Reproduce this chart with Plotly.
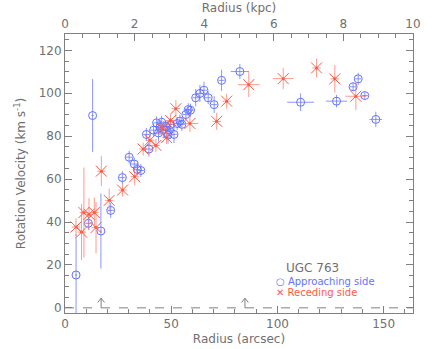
import plotly.graph_objects as go

# Approaching side (blue circles): radius [arcsec], velocity [km/s], errors
app_r = [5.2, 11.0, 13.0, 16.9, 21.5, 27.0, 30.2, 32.6, 34.0, 35.7, 38.3, 39.5,
         41.7, 43.1, 44.0, 44.7, 45.5, 46.5, 47.5, 48.5, 49.1, 49.7, 51.3, 52.8,
         54.1, 55.0, 56.9, 58.0, 59.1, 61.5, 63.5, 65.4, 67.4, 70.2, 73.7, 82.3,
         110.9, 127.8, 135.6, 138.0, 141.1, 146.3]
app_v = [15.3, 39.4, 89.6, 35.8, 45.4, 60.7, 70.2, 67.0, 64.5, 64.0, 80.8, 74.0,
         82.8, 86.2, 81.5, 84.0, 86.5, 83.0, 84.5, 80.5, 82.8, 85.4, 80.8, 85.9,
         87.0, 85.5, 90.1, 92.4, 92.1, 97.9, 99.9, 101.4, 97.9, 94.7, 106.0, 110.1,
         95.8, 96.3, 103.0, 106.7, 98.9, 87.8]
app_rerr = [0.5, 1.5, 0.5, 0.5, 1.5, 1.5, 1.5, 1.5, 1.5, 1.5, 1.5, 1.5,
            1.5, 1.5, 1.5, 1.5, 1.5, 1.5, 1.5, 1.5, 1.5, 1.5, 1.5, 1.5,
            1.5, 1.5, 1.5, 1.5, 1.5, 1.5, 1.5, 1.5, 1.5, 1.5, 1.5, 4.3,
            6.3, 5.0, 1.5, 1.5, 1.5, 3.0]
app_verr = [19, 3, 17, 17.5, 3.5, 3, 3, 3, 3, 3, 3, 3.5,
            3, 3, 4, 3.5, 3, 4, 3, 4, 3, 3, 4, 3,
            3, 3, 3, 3, 3, 4, 4, 4, 3, 4, 5, 3.5,
            4.1, 2.9, 2, 2.8, 2, 3.6]

# Receding side (red crosses)
rec_r = [5.2, 7.8, 8.9, 11.3, 13.8, 14.6, 17.1, 20.8, 27.1, 32.8, 36.8, 40.0,
         42.8, 46.0, 47.8, 49.7, 52.2, 58.8, 71.4, 76.1, 86.5, 102.7, 118.4, 127.0,
         136.9]
rec_v = [37.7, 35.3, 44.4, 43.6, 44.4, 37.4, 63.7, 50.1, 54.9, 61.1, 74.0, 78.1,
         75.7, 83.4, 79.3, 87.3, 92.8, 85.9, 86.9, 96.3, 104.0, 106.8, 111.8, 106.7,
         98.6]
rec_rerr = [2, 2, 2, 2, 2, 2, 2, 2, 2, 2, 2, 2,
            2, 2, 2, 2, 2, 3.9, 2, 2, 5.1, 4.9, 2, 2,
            5.0]
rec_verr = [4, 13, 21, 7.5, 7, 12, 7, 5.4, 3, 4, 3, 3,
            3, 3, 3, 3, 4, 4, 4, 3.5, 5.8, 4.9, 4.3, 6.4,
            6.4]

# little upward arrows sitting on the zero line
arrow_r = [17.0, 84.7]
arrow_h = 4.5

BLUE = 'rgb(100,115,255)'
BLUE_ERR = 'rgba(100,115,255,0.75)'
RED = 'rgb(255,90,70)'
RED_ERR = 'rgba(255,110,90,0.7)'
GREY = '#808080'
TXT = '#707070'
FONT = 'DejaVu Sans'

fig = go.Figure()

fig.add_trace(go.Scatter(
    x=app_r, y=app_v, mode='markers',
    marker=dict(symbol='circle-open', size=8, color=BLUE, line=dict(width=1)),
    error_x=dict(type='data', array=app_rerr, width=0, thickness=1, color=BLUE_ERR),
    error_y=dict(type='data', array=app_verr, width=0, thickness=1, color=BLUE_ERR),
    showlegend=False))

fig.add_trace(go.Scatter(
    x=rec_r, y=rec_v, mode='markers',
    marker=dict(symbol='x-thin-open', size=11, color=RED, line=dict(width=1, color=RED)),
    error_x=dict(type='data', array=rec_rerr, width=0, thickness=1, color=RED_ERR),
    error_y=dict(type='data', array=rec_verr, width=0, thickness=1, color=RED_ERR),
    showlegend=False))

fig.add_trace(go.Scatter(
    x=rec_r, y=rec_v, mode='markers',
    marker=dict(symbol='circle', size=3, color=RED),
    showlegend=False, hoverinfo='skip'))

# dummy trace to activate the top (kpc) axis
fig.add_trace(go.Scatter(x=[0], y=[0], xaxis='x2', mode='markers',
                         marker=dict(opacity=0), showlegend=False, hoverinfo='skip'))

# zero line
fig.add_hline(y=0, line=dict(color=GREY, width=1, dash='dash'))

# arrows: shaft + open chevron head
for r in arrow_r:
    fig.add_trace(go.Scatter(x=[r, r], y=[0, arrow_h], mode='lines',
                             line=dict(color=GREY, width=1),
                             showlegend=False, hoverinfo='skip'))
    fig.add_trace(go.Scatter(x=[r - 1.6, r, r + 1.6], y=[arrow_h - 2, arrow_h, arrow_h - 2],
                             mode='lines', line=dict(color=GREY, width=1),
                             showlegend=False, hoverinfo='skip'))

fig.add_annotation(x=116.6, y=18.8, xref='x', yref='y', text='UGC 763', showarrow=False,
                   font=dict(family=FONT, size=12, color=TXT))
fig.add_annotation(x=98.5, y=12.3, xref='x', yref='y', text='○ Approaching side',
                   showarrow=False, xanchor='left',
                   font=dict(family=FONT, size=10, color=BLUE))
fig.add_annotation(x=98.5, y=7.2, xref='x', yref='y', text='✕ Receding side',
                   showarrow=False, xanchor='left',
                   font=dict(family=FONT, size=10, color=RED))

axis_common = dict(showgrid=False, zeroline=False, showline=True, linecolor=GREY,
                   linewidth=1, ticks='inside', tickcolor=GREY, ticklen=7,
                   automargin=False,
                   tickfont=dict(family=FONT, size=12, color=TXT))

fig.update_layout(
    width=436, height=349,
    margin=dict(l=65, r=23, t=34, b=36),
    paper_bgcolor='white', plot_bgcolor='white',
    font=dict(family=FONT, color=TXT),
    xaxis=dict(range=[0, 163.8], dtick=50, mirror=False,
               minor=dict(dtick=10, ticklen=4, tickcolor=GREY, ticks='inside'),
               title=dict(text='Radius (arcsec)', font=dict(family=FONT, size=12, color=TXT),
                          standoff=4),
               **axis_common),
    xaxis2=dict(range=[0, 10], dtick=2, overlaying='x', side='top',
                minor=dict(dtick=0.5, ticklen=4, tickcolor=GREY, ticks='inside'),
                title=dict(text='Radius (kpc)', font=dict(family=FONT, size=12, color=TXT),
                           standoff=2),
                **axis_common),
    yaxis=dict(range=[-2.4, 127.6], dtick=20, mirror='ticks',
               minor=dict(dtick=5, ticklen=4, tickcolor=GREY, ticks='inside'),
               title=dict(text='Rotation Velocity (km s<sup>-1</sup>)',
                          font=dict(family=FONT, size=12, color=TXT), standoff=10),
               **axis_common),
)

fig.write_html("out.html", config={'displayModeBar': False},
               post_script="document.body.style.margin='0';")
